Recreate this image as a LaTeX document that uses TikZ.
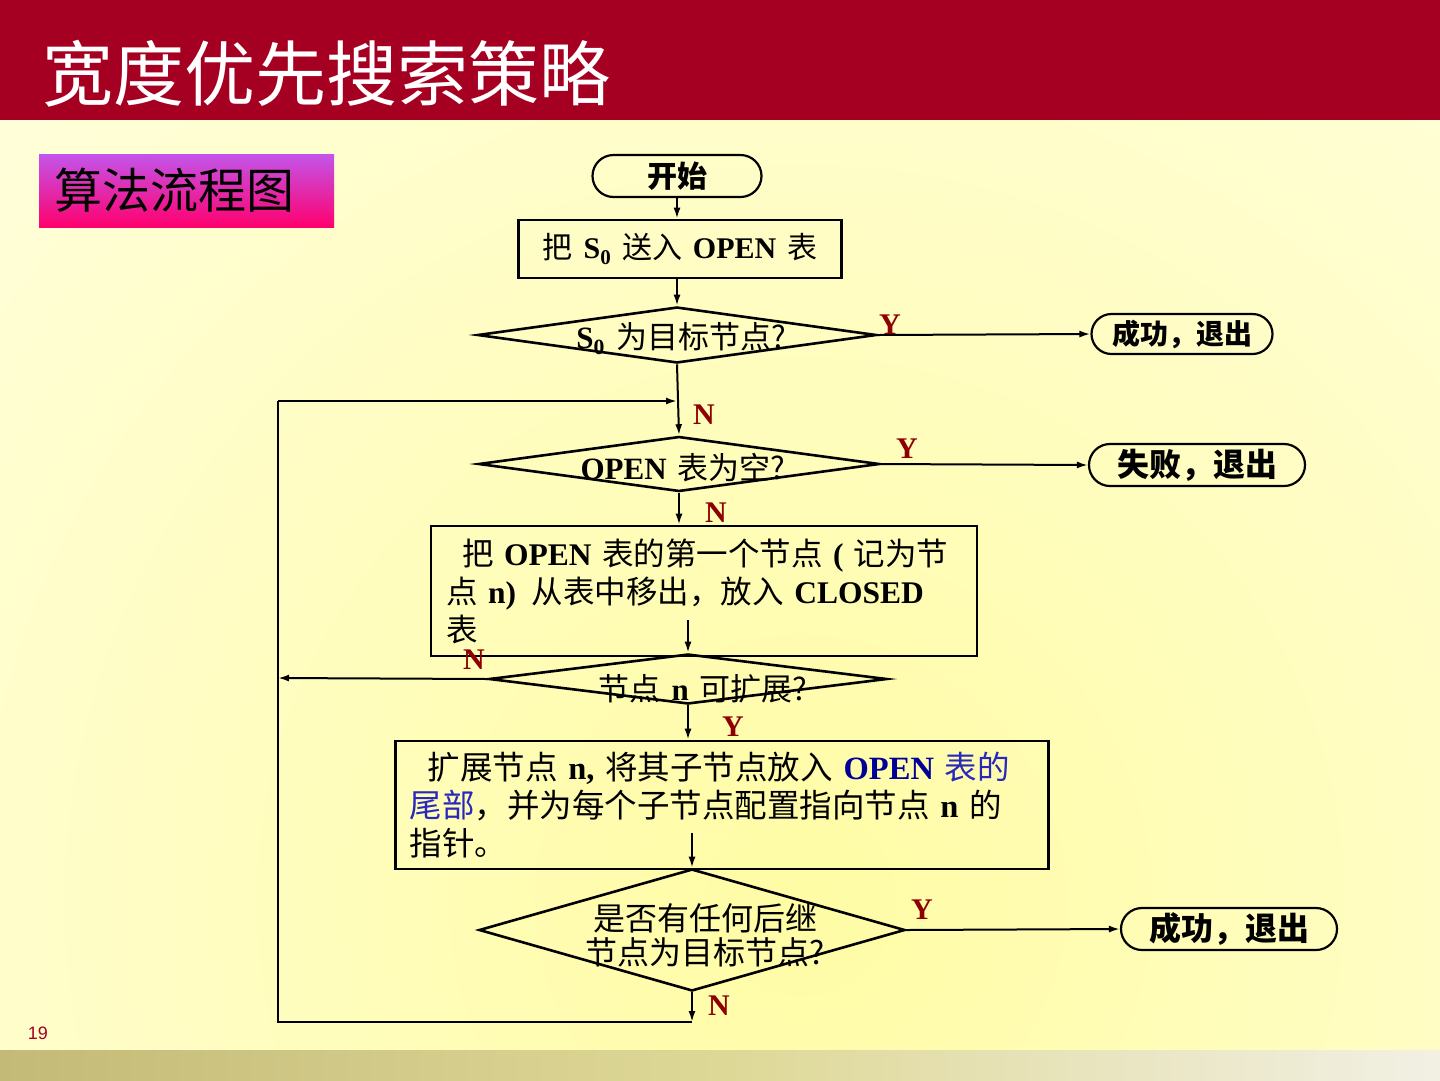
\documentclass[tikz,border=0pt]{standalone}
\usepackage{fontspec}
\setmainfont{Noto Sans CJK SC}[WordSpace=1.6]
\newfontfamily\tnrfont{Liberation Serif}
\newfontfamily\pgnumfont{Liberation Sans}
\definecolor{titlered}{RGB}{165, 0, 33}
\definecolor{labelred}{RGB}{140, 0, 0}
\definecolor{badgetop}{RGB}{195, 85, 235}
\definecolor{badgebottom}{RGB}{255, 0, 110}
\definecolor{bginner}{RGB}{255, 252, 165}
\definecolor{bgouter}{RGB}{255, 255, 240}
\definecolor{footleft}{RGB}{196, 186, 120}
\definecolor{footmid}{RGB}{222, 216, 150}
\definecolor{footright}{RGB}{242, 240, 228}
\definecolor{openblue}{RGB}{0, 0, 150}
\definecolor{tailblue}{RGB}{40, 40, 190}
\usetikzlibrary{shapes.geometric, shapes.misc, arrows.meta, positioning, calc}
\newcommand{\lat}[1]{{\tnrfont\bfseries #1}}
\tikzset{
    procbox/.style={draw, rectangle, line width=2.6pt, inner sep=0pt, font=\fontsize{30}{38}\selectfont},
    decision/.style={draw, diamond, line width=2.6pt, inner sep=0pt},
    dtext/.style={font=\fontsize{31}{34}\selectfont, inner sep=0pt, align=center},
    terminal/.style={draw, rounded rectangle, line width=2.2pt, inner sep=0pt, font=\fontsize{30}{34}\selectfont\bfseries},
    flowarrow/.style={-{Latex[length=11pt,width=7pt]}, line width=2pt},
    flowline/.style={line width=2pt},
    yn/.style={font=\tnrfont\bfseries\fontsize{30}{30}\selectfont, text=labelred, inner sep=0pt},
}

\begin{document}
\begin{tikzpicture}[x=1pt, y=-1pt]
    \useasboundingbox (0,0) rectangle (1440,1080);
    % Background
    \fill[bgouter] (0,0) rectangle (1440,1080);
    \begin{scope}
        \clip (0,120) rectangle (1440,1050);
        \shade[inner color=bginner, outer color=bgouter] (800,900) circle (1600);
    \end{scope}
    \fill[titlered] (0,0) rectangle (1440,120);
    \shade[left color=footleft, right color=footright, middle color=footmid] (0,1050) rectangle (1440,1080);

    % Title and badge
    \node[anchor=west, text=white, font=\fontsize{71}{71}\selectfont, inner sep=0pt] (title) at (42,74) {宽度优先搜索策略};
    \node[top color=badgetop, bottom color=badgebottom, minimum width=295pt, minimum height=73pt, inner sep=0pt,
          text width=265pt, align=left, font=\fontsize{48}{48}\selectfont] (badge) at (186.5,190.5) {算法流程图};
    \node[font=\pgnumfont\fontsize{18}{18}\selectfont, text=titlered] (pgnum) at (38,1033) {19};

    % Start and init
    \node[terminal, minimum width=169pt, minimum height=42pt] (start) at (677,176) {开始};
    \node[procbox, minimum width=323pt, minimum height=58pt] (box1) at (680,249) {把 \lat{S\textsubscript{0}} 送入 \lat{OPEN} 表};

    % Test S0
    \node[decision, minimum width=399pt, minimum height=56pt] (d1) at (677,335) {};
    \node[dtext] (d1txt) at (681,339) {\lat{S\textsubscript{0}} 为目标节点?};
    \node[terminal, minimum width=181pt, minimum height=40pt, font=\fontsize{28}{32}\selectfont\bfseries] (end1) at (1182,334) {成功，退出};

    % Test OPEN empty
    \node[decision, minimum width=401pt, minimum height=55pt] (d2) at (679,464) {};
    \node[dtext] (d2txt) at (683,468) {\lat{OPEN} 表为空?};
    \node[terminal, minimum width=216pt, minimum height=42pt, font=\fontsize{32}{34}\selectfont\bfseries] (end2) at (1197,465) {失败，退出};

    % Move n to CLOSED
    \node[procbox, minimum width=546pt, minimum height=130pt, text width=516pt, align=left, font=\fontsize{31.5}{38}\selectfont] (box2) at (704,591)
        {\hspace*{16pt}把 \lat{OPEN} 表的第一个节点 \lat{(} 记为节\\点 \lat{n)}\enspace 从表中移出，放入 \lat{CLOSED}\\表};

    % Expandable?
    \node[decision, minimum width=398pt, minimum height=50pt] (d3) at (688,679) {};
    \node[dtext] (d3txt) at (703,689) {节点 \lat{n} 可扩展?};

    % Expand n
    \node[procbox, minimum width=653pt, minimum height=128pt, text width=625pt, align=left, font=\fontsize{32.5}{38}\selectfont] (box3) at (722,805)
        {\hspace*{18pt}扩展节点 \lat{n,} 将其子节点放入 \textcolor{openblue}{\lat{OPEN}} \textcolor{tailblue}{表的}\\\textcolor{tailblue}{尾部}，并为每个子节点配置指向节点 \lat{n} 的\\指针。};

    % Any successor a goal?
    \node[decision, minimum width=426pt, minimum height=122pt] (d4) at (692,930) {};
    \node[dtext, font=\fontsize{32}{34}\selectfont] (d4txt) at (705,935) {是否有任何后继\\节点为目标节点?};
    \node[terminal, minimum width=216pt, minimum height=42pt, font=\fontsize{32}{34}\selectfont\bfseries] (end3) at (1229,929) {成功，退出};

    % Loop corners
    \coordinate (looptop) at (677,401);
    \coordinate (loopul) at (278,401);
    \coordinate (loopmid) at (278,678);
    \coordinate (loopll) at (278,1022);
    \coordinate (loopbr) at (692,1022);
    \coordinate (box2in) at (688,620);
    \coordinate (box3in) at (692,833);

    % Arrows
    \draw[flowarrow] (start.south) -- (start.south |- box1.north);
    \draw[flowarrow] (box1.south -| d1.north) -- (d1.north);
    \draw[flowarrow] (d1.east) -- (end1.west);
    \draw[flowarrow] (d1.south) -- (d2.north);
    \draw[flowarrow] (d2.east) -- (end2.west);
    \draw[flowarrow] (d2.south) -- (d2.south |- box2.north);
    \draw[flowarrow] (box2in) -- (d3.north);
    \draw[flowarrow] (d3.west) -- (loopmid);
    \draw[flowarrow] (d3.south) -- (d3.south |- box3.north);
    \draw[flowarrow] (box3in) -- (d4.north);
    \draw[flowarrow] (d4.east) -- (end3.west);
    \draw[flowarrow] (d4.south) -- (loopbr);
    \draw[flowline] (loopbr) -- (loopll) -- (loopul);
    \draw[flowarrow] (loopul) -- (looptop);

    % Y / N labels
    \node[yn] (y1) at (890,325) {Y};
    \node[yn] (n1) at (704,415) {N};
    \node[yn] (y2) at (907,449) {Y};
    \node[yn] (n2) at (716,513) {N};
    \node[yn] (n3) at (474,660) {N};
    \node[yn] (y3) at (733,727) {Y};
    \node[yn] (y4) at (922,910) {Y};
    \node[yn] (n4) at (719,1006) {N};
\end{tikzpicture}
\end{document}
